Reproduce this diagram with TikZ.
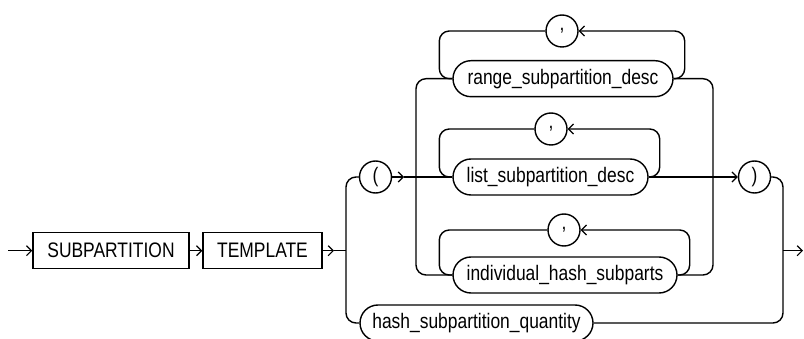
\documentclass[tikz,border=0pt]{standalone}
\usepackage{fontspec}
\setmainfont[FakeStretch=0.83]{Liberation Sans}
\usetikzlibrary{arrows.meta}
\begin{document}
\begin{tikzpicture}[x=1pt,y=-1pt,line width=1.4pt,
  lbl/.style={font=\fontsize{21}{25}\selectfont},
  box/.style={lbl,draw,rectangle,minimum height=36pt,inner sep=0pt},
  stad/.style={lbl,draw,rectangle,rounded corners=18pt,minimum height=36pt,inner sep=0pt},
  tok/.style={lbl,draw,circle,minimum size=32pt,inner sep=0pt},
  arr/.style={-{Straight Barb[length=5pt,width=10pt,line width=1.2pt]}},
  rc/.style={rounded corners=10pt}]
\useasboundingbox (0,0) rectangle (804,339);
% nodes
\node[box,minimum width=156pt] (sub) at (111,250.7) {SUBPARTITION};
\node[box,minimum width=119pt] (tmp) at (262.5,250.7) {TEMPLATE};
\node[tok] (lp) at (375.5,177) {(};
\node[stad,minimum width=220pt] (range) at (563,78.7) {range\_subpartition\_desc};
\node[tok] (c1) at (562,31) {,};
\node[stad,minimum width=195pt] (list) at (550.5,177) {list\_subpartition\_desc};
\node[tok] (c2) at (551,129) {,};
\node[stad,minimum width=224pt] (ind) at (565,275) {individual\_hash\_subparts};
\node[tok] (c3) at (564,230) {,};
\node[stad,minimum width=233pt] (hash) at (476.5,323) {hash\_subpartition\_quantity};
\node[tok] (rp) at (754.5,177) {)};
% coordinates
\coordinate (start) at (8,250.7);
\coordinate (a1) at (334,250.7);
\coordinate (b1) at (346,250.7);
\coordinate (a2) at (404,177);
\coordinate (b2) at (416,177);
\coordinate (b3) at (713,177);
\coordinate (b4) at (783,250.7);
\coordinate (fin) at (803,250.7);
% connectors
\draw[arr] (start) -- (sub.west);
\draw[arr] (sub.east) -- (tmp.west);
\draw[arr] (tmp.east) -- (a1);
\draw (a1) -- (b1);
\draw[rc] (lp.west) -| (b1) |- (hash.west);
\draw[arr] (lp.east) -- (a2);
\draw (a2) -- (list.west);
\draw[rc] (range.west) -| (b2) |- (ind.west);
\draw[rc] (range.east) -| (b3) |- (ind.east);
\draw[arr] (list.east) -- (rp.west);
\draw[rc] (rp.east) -| (b4) |- (hash.east);
\draw[arr] (b4) -- (fin);
% loops
\draw[rc,arr] (range.east) -- ([xshift=11pt]range.east) |- (c1.east);
\draw[rc] (c1.west) -| ([xshift=-13pt]range.west) -- (range.west);
\draw[rc,arr] (list.east) -- ([xshift=11pt]list.east) |- (c2.east);
\draw[rc] (c2.west) -| ([xshift=-13pt]list.west) -- (list.west);
\draw[rc,arr] (ind.east) -- ([xshift=12pt]ind.east) |- (c3.east);
\draw[rc] (c3.west) -| ([xshift=-13pt]ind.west) -- (ind.west);
\end{tikzpicture}
\end{document}
